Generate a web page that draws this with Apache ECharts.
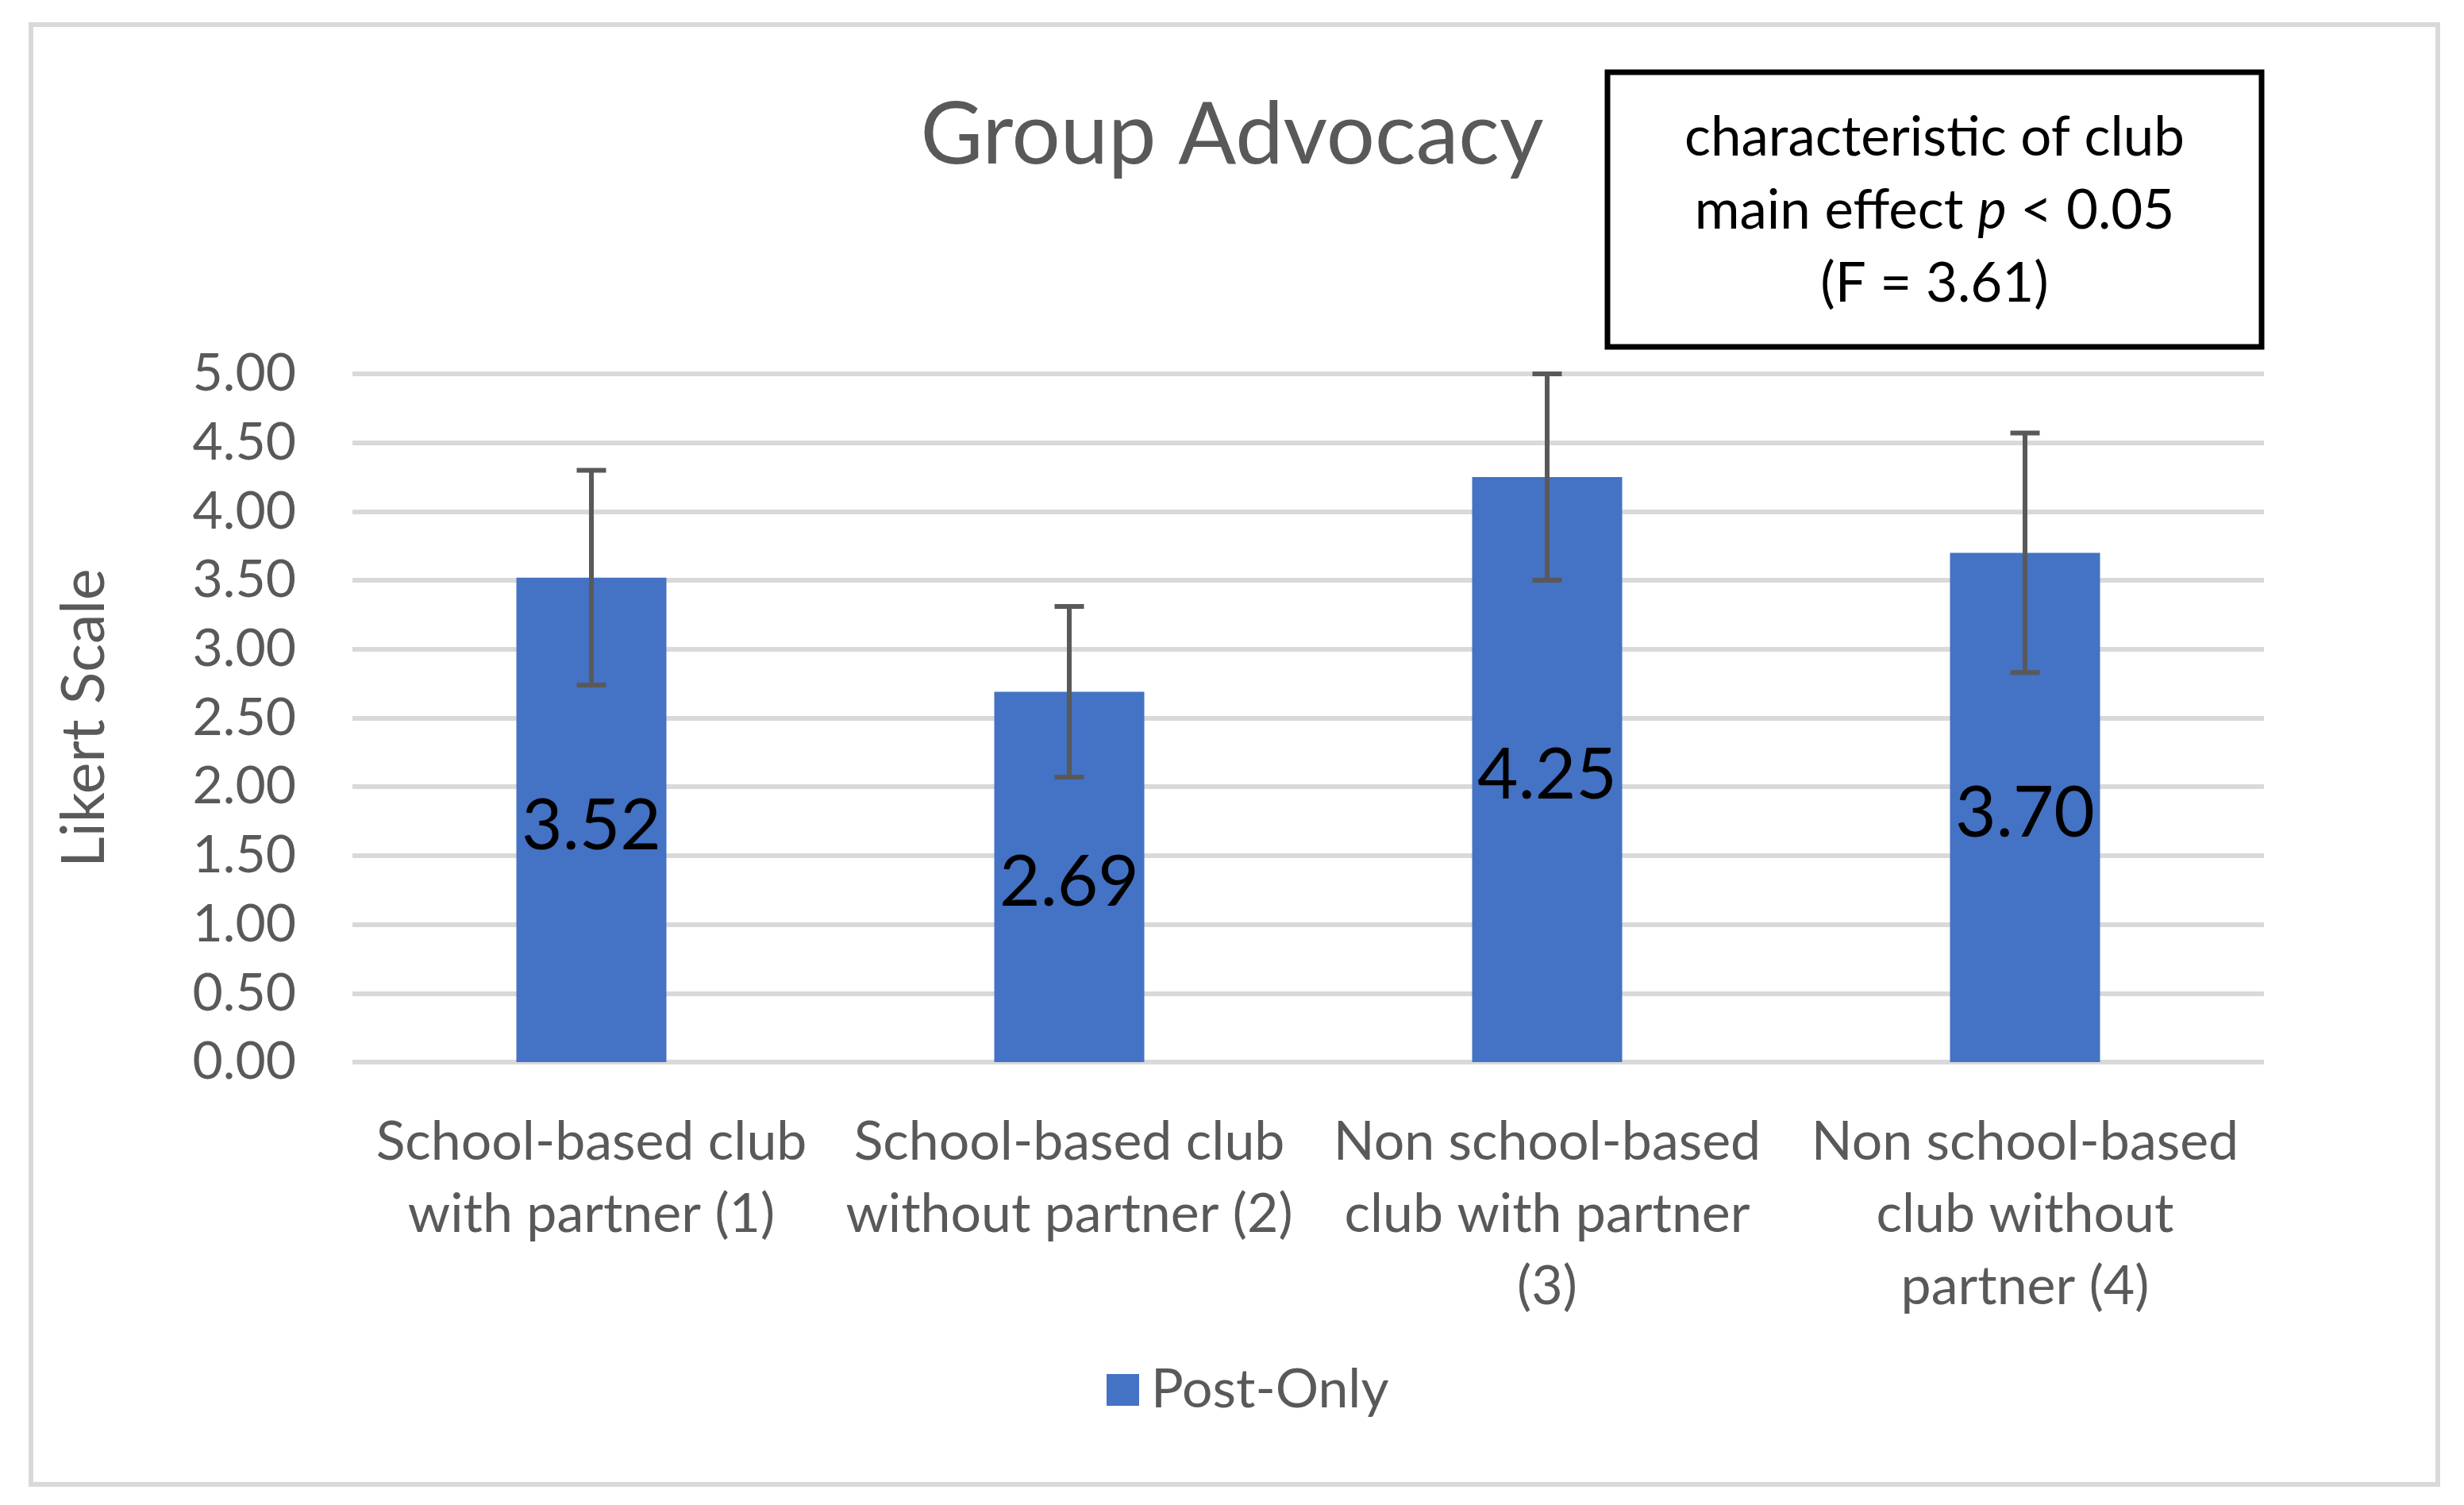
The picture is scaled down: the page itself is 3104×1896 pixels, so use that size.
<!DOCTYPE html>
<html>
<head>
<meta charset="utf-8">
<script src="https://cdn.jsdelivr.net/npm/echarts@6/dist/echarts.min.js"></script>
<style>
  html, body { margin: 0; padding: 0; background: #ffffff; }
  #chart { width: 3104px; height: 1896px; }
</style>
</head>
<body>
<div id="chart"></div>
<script>
// ---- data ----
const titleText = 'Group Advocacy';
const categories = [
  'School-based club\nwith partner (1)',
  'School-based club\nwithout partner (2)',
  'Non school-based\nclub with partner\n(3)',
  'Non school-based\nclub without\npartner (4)'
];
const seriesName = 'Post-Only';
const values = [3.52, 2.69, 4.25, 3.70];
const errors = [0.78, 0.62, 0.75, 0.87];
const yMin = 0;
const yMax = 5;
const yStep = 0.5;
const yAxisName = 'Likert Scale';
const noteLines = ['characteristic of club', 'main effect ', 'p', ' < 0.05', '(F = 3.61)'];

// ---- chart ----
const FONT = 'Lato';
const GREY = '#595959';
const errorData = values.map((v, i) => [i, v - errors[i], v + errors[i]]);

const chart = echarts.init(document.getElementById('chart'), null, { renderer: 'canvas' });

const option = {
  backgroundColor: '#ffffff',
  animation: false,
  textStyle: { fontFamily: FONT },
  title: {
    text: titleText,
    left: 'center',
    top: 112,
    textStyle: { fontFamily: FONT, fontSize: 108, fontWeight: 'normal', color: GREY }
  },
  legend: {
    data: [seriesName],
    left: 1389,
    top: 1712,
    itemWidth: 41,
    itemHeight: 40,
    icon: 'rect',
    textStyle: { fontFamily: FONT, fontSize: 68, color: GREY, padding: [0, 0, 0, 10] }
  },
  grid: { left: 444, right: 252, top: 471, bottom: 558, containLabel: false },
  xAxis: {
    type: 'category',
    data: categories,
    axisLine: { show: false },
    axisTick: { show: false },
    axisLabel: {
      interval: 0,
      margin: 56,
      fontFamily: FONT,
      fontSize: 68,
      lineHeight: 91,
      color: GREY,
      align: 'center',
      verticalAlign: 'top'
    }
  },
  yAxis: {
    type: 'value',
    min: yMin,
    max: yMax,
    interval: yStep,
    name: yAxisName,
    nameLocation: 'middle',
    nameGap: 300,
    nameRotate: 90,
    nameTextStyle: { fontFamily: FONT, fontSize: 75, color: GREY },
    axisLine: { show: false },
    axisTick: { show: false },
    axisLabel: {
      margin: 71,
      fontFamily: FONT,
      fontSize: 66,
      color: GREY,
      formatter: v => v.toFixed(2)
    },
    splitLine: { lineStyle: { color: '#d9d9d9', width: 6 } }
  },
  series: [
    {
      name: seriesName,
      type: 'bar',
      data: values,
      barWidth: 189,
      itemStyle: { color: '#4472c4' },
      label: {
        show: true,
        position: 'inside',
        offset: [0, 8],
        fontFamily: FONT,
        fontSize: 89,
        color: '#000000',
        formatter: p => p.value.toFixed(2)
      },
      z: 2
    },
    {
      name: 'error',
      type: 'custom',
      data: errorData,
      z: 5,
      silent: true,
      renderItem: function (params, api) {
        const x = api.value(0);
        const lo = api.coord([x, api.value(1)]);
        const hi = api.coord([x, api.value(2)]);
        const hw = 18.5;
        const st = { stroke: GREY, lineWidth: 6 };
        return {
          type: 'group',
          children: [
            { type: 'line', shape: { x1: lo[0], y1: lo[1], x2: hi[0], y2: hi[1] }, style: st },
            { type: 'line', shape: { x1: lo[0] - hw, y1: lo[1], x2: lo[0] + hw, y2: lo[1] }, style: st },
            { type: 'line', shape: { x1: hi[0] - hw, y1: hi[1], x2: hi[0] + hw, y2: hi[1] }, style: st }
          ]
        };
      }
    }
  ],
  graphic: [
    {
      type: 'rect',
      shape: { x: 39, y: 31, width: 3032, height: 1839 },
      style: { fill: 'none', stroke: '#d9d9d9', lineWidth: 6 },
      z: -1,
      silent: true
    },
    {
      type: 'rect',
      shape: { x: 2025, y: 91, width: 824, height: 346 },
      style: { fill: '#ffffff', stroke: '#000000', lineWidth: 7 },
      z: 10,
      silent: true
    },
    {
      type: 'text',
      x: 2437,
      y: 266,
      z: 11,
      silent: true,
      style: {
        text: '{n|' + noteLines[0] + '}\n{n|' + noteLines[1] + '}{i|' + noteLines[2] + '}{n|' + noteLines[3] + '}\n{n|' + noteLines[4] + '}',
        align: 'center',
        verticalAlign: 'middle',
        fill: '#000000',
        font: '69px Lato',
        rich: {
          n: { fontFamily: FONT, fontSize: 69, lineHeight: 92, color: '#000000' },
          i: { fontFamily: FONT, fontSize: 69, lineHeight: 92, fontStyle: 'italic', color: '#000000' }
        }
      }
    }
  ]
};

chart.setOption(option);
</script>
</body>
</html>
